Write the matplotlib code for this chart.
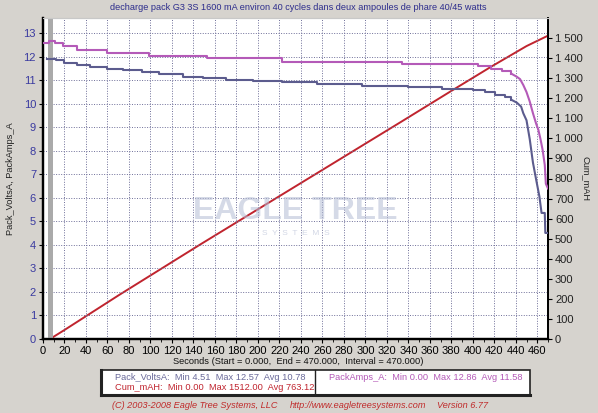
import matplotlib
matplotlib.use("Agg")
import matplotlib.pyplot as plt
from matplotlib.ticker import FuncFormatter, MultipleLocator
from matplotlib.patches import Rectangle

# ---- data ----
volts_t = [4, 12, 20, 32, 44, 60, 74, 92, 108, 130, 149, 170, 195, 222, 255, 297,
           340, 371, 400, 411, 421, 430, 436, 441, 445, 447, 450, 453, 456, 459,
           462, 464, 467, 467.5, 470]
volts_v = [11.92, 11.85, 11.75, 11.65, 11.56, 11.48, 11.42, 11.34, 11.25, 11.16,
           11.08, 11.02, 10.98, 10.92, 10.84, 10.77, 10.70, 10.62, 10.57, 10.49,
           10.38, 10.27, 10.17, 10.05, 9.88, 9.6, 9.3, 8.5, 7.5, 6.77, 6.06, 5.36,
           5.36, 4.51, 4.51]

amps_t = [0, 6, 11, 19, 32, 60, 99, 153, 222, 334, 405, 417, 427, 436, 441, 444,
          447, 450, 453, 456, 459, 461, 463, 465, 467, 468, 470]
amps_v = [12.57, 12.69, 12.6, 12.44, 12.3, 12.16, 12.03, 11.94, 11.8, 11.69, 11.6,
          11.49, 11.38, 11.28, 11.15, 11.05, 10.8, 10.5, 10.1, 9.6, 9.15, 8.9, 8.5,
          8.04, 7.4, 6.6, 6.4]

cum_t = [6.5, 20, 71, 146, 250, 331, 382, 417, 450, 470]
cum_v = [0, 45, 220, 470, 810, 1075, 1243, 1357, 1460, 1512]

x_ticks = list(range(0, 461, 20))
left_ticks = list(range(0, 14))
right_ticks = list(range(0, 1501, 100))

title = "decharge pack G3 3S 1600 mA environ 40 cycles dans deux ampoules de phare 40/45 watts"
xlabel = "Seconds (Start = 0.000,  End = 470.000,  Interval = 470.000)"
stats_volts = "Pack_VoltsA:  Min 4.51  Max 12.57  Avg 10.78"
stats_cum = "Cum_mAH:  Min 0.00  Max 1512.00  Avg 763.12"
stats_amps = "PackAmps_A:  Min 0.00  Max 12.86  Avg 11.58"
footer = ["(C) 2003-2008 Eagle Tree Systems, LLC", "http://www.eagletreesystems.com", "Version 6.77"]

# ---- figure ----
W, H = 598, 413
bg = "#d6d3ce"
plt.rcParams['font.family'] = ['Liberation Sans', 'DejaVu Sans']
fig = plt.figure(figsize=(W / 100, H / 100), dpi=100, facecolor=bg)

def fx(px):
    return px / W

def fy(py):
    return 1 - py / H

ax = fig.add_axes([fx(43), fy(339), fx(548) - fx(43), fy(18) - fy(339)])
ax.set_facecolor("white")
ax.set_xlim(0, 470)
ax.set_ylim(0, 13.65)
ax2 = ax.twinx()
ax2.set_ylim(0, 1600)

grid_c = "#6e6e98"
for t in x_ticks[1:]:
    ax.axvline(t, color=grid_c, lw=0.7, ls=(0, (1, 1.6)), zorder=0)
for v in left_ticks[1:]:
    ax.axhline(v, color=grid_c, lw=0.7, ls=(0, (1, 1.6)), zorder=0)

# watermark
ax.text(0.5, 0.40, "EAGLE TREE", transform=ax.transAxes, ha="center", va="center",
        fontsize=23, fontweight="bold", color="#b4bcd4", alpha=0.55, zorder=1)
ax.text(0.5, 0.33, "S  Y  S  T  E  M  S", transform=ax.transAxes, ha="center", va="center",
        fontsize=6, color="#b4bcd4", alpha=0.6, zorder=1)

ax.axvspan(4.8, 9.0, color="#aaaaaa", zorder=2, lw=0)

# flat, stepped part of each trace, then the smooth final drop
vk = volts_t.index(436)
ak = amps_t.index(436)
vcol, acol = "#5c5c8e", "#b45ab8"
ax.plot(volts_t[:vk + 1], volts_v[:vk + 1], drawstyle="steps-post", color=vcol, lw=1.5, zorder=3)
ax.plot(volts_t[vk:], volts_v[vk:], color=vcol, lw=1.5, zorder=3)
ax.plot(amps_t[:ak + 1], amps_v[:ak + 1], drawstyle="steps-post", color=acol, lw=1.5, zorder=3)
ax.plot(amps_t[ak:], amps_v[ak:], color=acol, lw=1.5, zorder=3)
ax2.plot(cum_t, cum_v, color="#c0242e", lw=1.4, zorder=4)

ax.set_xticks(x_ticks)
ax.xaxis.set_minor_locator(MultipleLocator(10))
ax.set_yticks(left_ticks)
ax2.set_yticks(right_ticks)
ax2.yaxis.set_major_formatter(FuncFormatter(lambda v, p: f"{int(v):,}".replace(",", " ")))

ax.tick_params(axis="x", labelsize=8, length=3, width=0.8, colors="black", pad=2)
ax.tick_params(axis="x", which="minor", length=2, width=0.6)
ax.tick_params(axis="y", labelsize=8, length=3, width=0.8, labelcolor="#3a3aa0", pad=2)
ax2.tick_params(axis="y", labelsize=8, length=3, width=0.8, labelcolor="#222222", pad=2)

for a in (ax, ax2):
    a.spines["top"].set_color("#c8c8c8")
    a.spines["left"].set_linewidth(1.6)
    a.spines["right"].set_linewidth(1.3)
    a.spines["bottom"].set_linewidth(1.6)

ax2.set_zorder(0)
ax.set_zorder(1)
ax.patch.set_visible(False)
ax2.patch.set_visible(True)
ax2.patch.set_facecolor("white")

# text
fs = 6.7
fig.text(fx(298), fy(8), title, ha="center", va="center", fontsize=6.6, color="#2c2c8c")
fig.text(fx(11), fy(179), "Pack_VoltsA, PackAmps_A", rotation=90, ha="center", va="center",
         fontsize=fs, color="#222222")
fig.text(fx(586), fy(178), "Cum_mAH", rotation=270, ha="center", va="center",
         fontsize=fs, color="#222222")
fig.text(fx(298), fy(362), xlabel, ha="center", va="center", fontsize=fs, color="#111111")

# legend box
fig.add_artist(Rectangle((fx(101), fy(395)), fx(530) - fx(101), fy(370) - fy(395),
                         transform=fig.transFigure, facecolor="white", edgecolor="#222222", lw=1.2))
fig.add_artist(plt.Line2D([fx(101), fx(101)], [fy(395), fy(370)], transform=fig.transFigure,
                          color="#222222", lw=2.2))
fig.add_artist(plt.Line2D([fx(101), fx(530)], [fy(395), fy(395)], transform=fig.transFigure,
                          color="#222222", lw=2.2))
fig.add_artist(plt.Line2D([fx(315), fx(315)], [fy(395), fy(370)], transform=fig.transFigure,
                          color="#222222", lw=1.0))
fig.text(fx(115), fy(377), stats_volts, ha="left", va="center", fontsize=fs, color="#6a6a9a")
fig.text(fx(115), fy(388), stats_cum, ha="left", va="center", fontsize=fs, color="#c0242e")
fig.text(fx(329), fy(377), stats_amps, ha="left", va="center", fontsize=fs, color="#b45ab8")

# footer
fcol = "#c02a2a"
fig.text(fx(112), fy(406), footer[0], ha="left", va="center", fontsize=6.6, color=fcol, style="italic")
fig.text(fx(290), fy(406), footer[1], ha="left", va="center", fontsize=6.6, color=fcol, style="italic")
fig.text(fx(437), fy(406), footer[2], ha="left", va="center", fontsize=6.6, color=fcol, style="italic")

fig.savefig("out.png", dpi=100, facecolor=bg)
